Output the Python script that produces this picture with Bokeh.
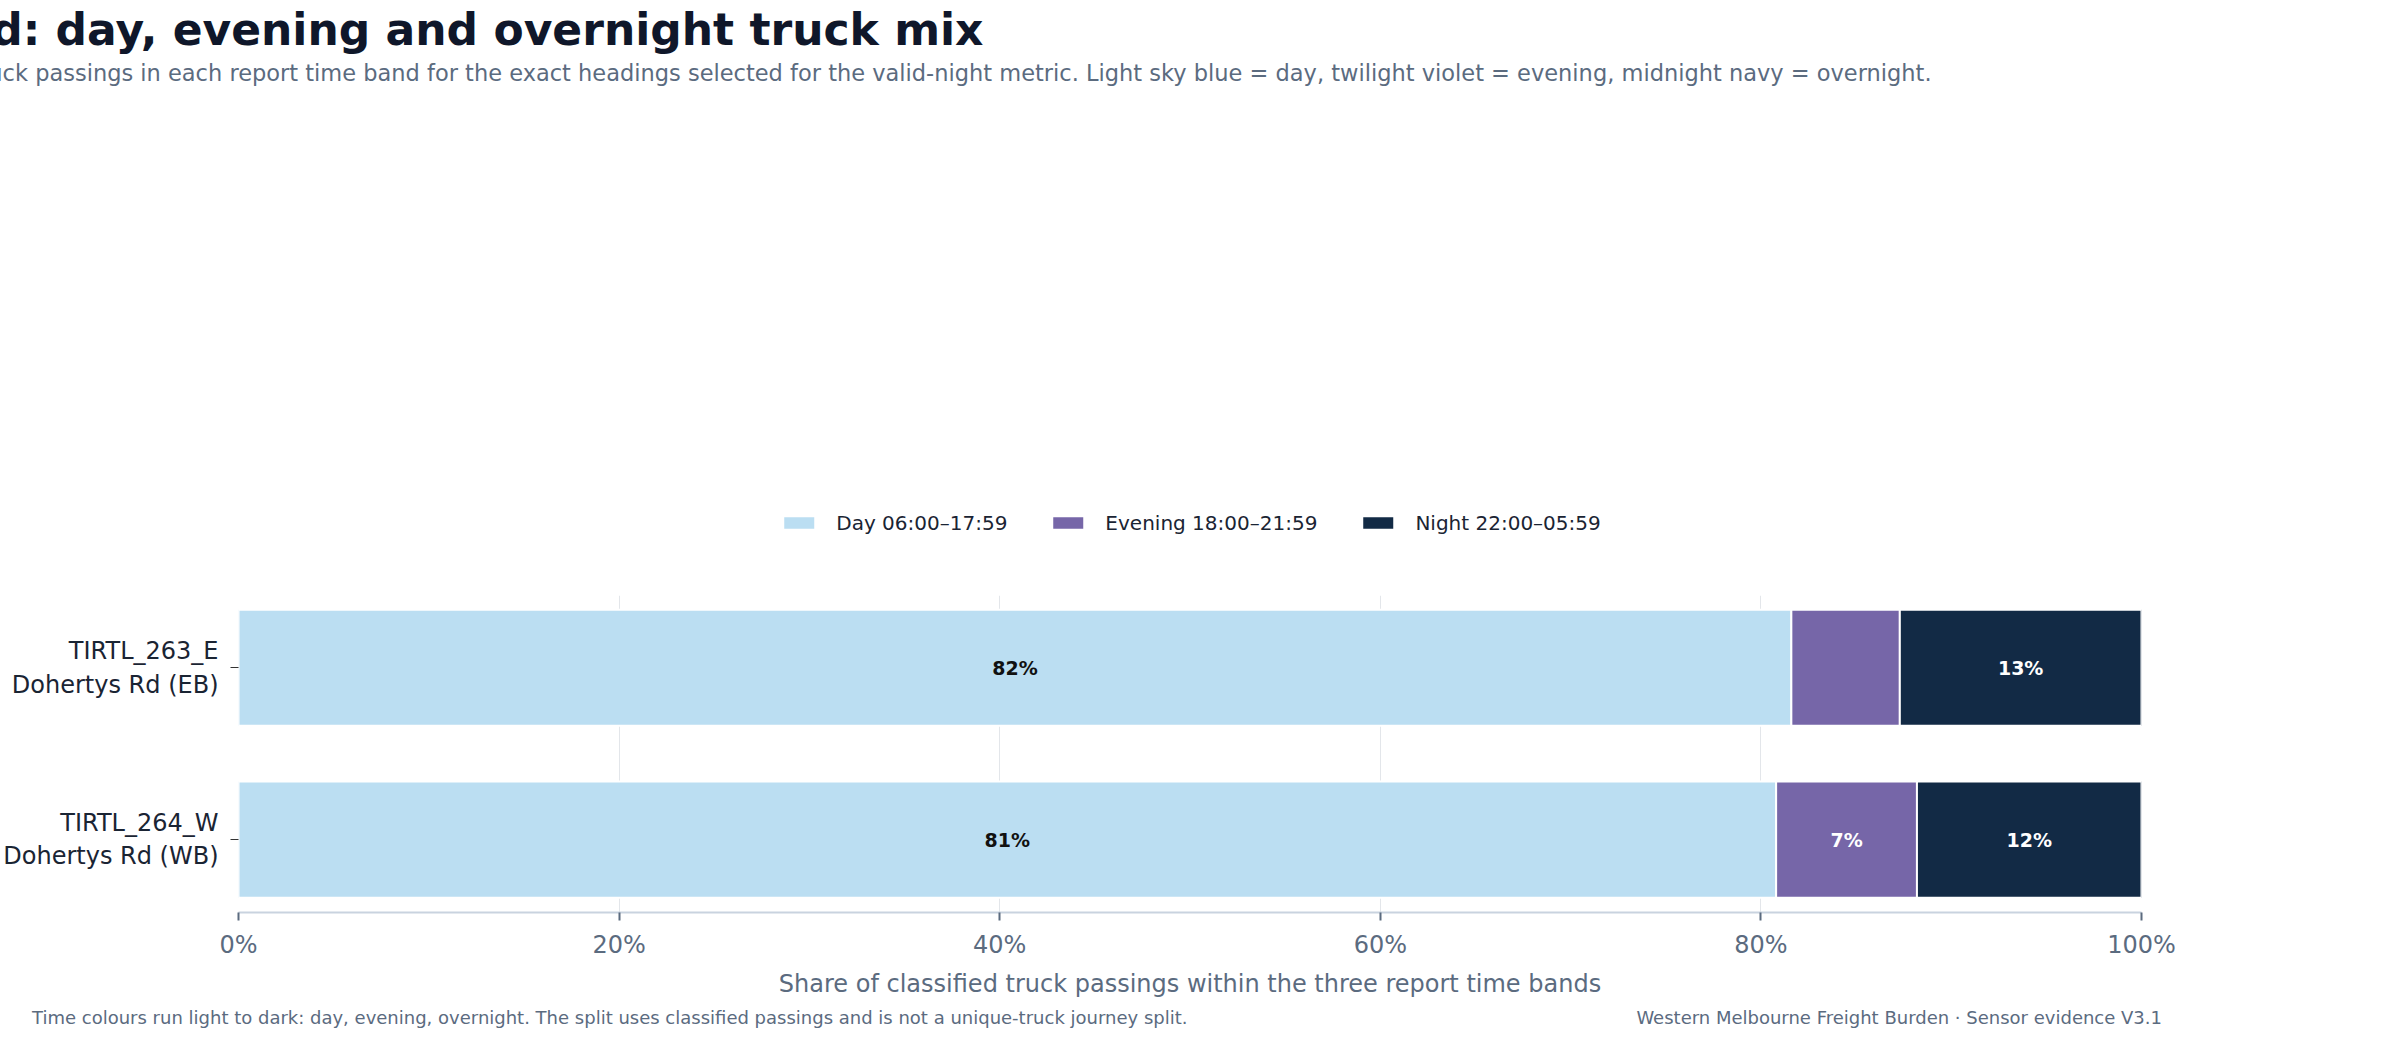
from bokeh.plotting import figure
from bokeh.models import Legend, LegendItem, FixedTicker, ColumnDataSource, Title, Div
from bokeh.layouts import column, row
from bokeh.core.properties import value
from bokeh.embed import file_html
from bokeh.resources import INLINE

sites = ["TIRTL_263_E\nDohertys Rd (EB)", "TIRTL_264_W\nDohertys Rd (WB)"]
site_y = [1, 0]
day = [81.6, 80.8]
evening = [5.7, 7.4]
night = [12.7, 11.8]
bands = ["Day 06:00\u201317:59", "Evening 18:00\u201321:59", "Night 22:00\u201305:59"]
colors = ["#bbdef2", "#7666a8", "#122a45"]
label_colors = ["#111111", "#ffffff", "#ffffff"]
x_ticks = [0, 20, 40, 60, 80, 100]

FONT = "DejaVu Sans"
p = figure(width=2380, height=1000, output_backend="svg", toolbar_location=None,
           x_range=(0, 100), y_range=(-0.424, 1.42),
           min_border_left=40, min_border_right=239, min_border_top=10, min_border_bottom=10)
p.outline_line_color = None

series = [day, evening, night]
renderers = []
lefts = [0.0, 0.0]
for i, vals in enumerate(series):
    rights = [l + v for l, v in zip(lefts, vals)]
    src = ColumnDataSource(dict(y=site_y, left=lefts, right=rights))
    r = p.hbar(y="y", left="left", right="right", height=0.675, source=src,
               fill_color=colors[i], line_color="white", line_width=2)
    renderers.append(r)
    tx, ty, tt = [], [], []
    for l, rr, yy, v in zip(lefts, rights, site_y, vals):
        if v >= 6:
            tx.append((l + rr) / 2); ty.append(yy); tt.append(f"{round(v):.0f}%")
    p.text(x=tx, y=ty, text=tt, text_align="center", text_baseline="middle",
           text_font=value(FONT), text_font_size="19px", text_font_style="bold",
           text_color=label_colors[i])
    lefts = rights

p.xgrid.grid_line_color = "#e3e6ea"
p.xgrid.ticker = FixedTicker(ticks=x_ticks)
p.ygrid.grid_line_color = None
p.xaxis.ticker = FixedTicker(ticks=x_ticks)
p.xaxis.major_label_overrides = {t: f"{t}%" for t in x_ticks}
p.xaxis.axis_line_color = "#c9d3df"
p.xaxis.axis_line_width = 2
p.xaxis.major_tick_line_color = "#5b6b7f"
p.xaxis.major_tick_line_width = 2
p.xaxis.major_tick_out = 8
p.xaxis.major_tick_in = 0
p.xaxis.minor_tick_line_color = None
p.xaxis.major_label_text_font = FONT
p.xaxis.major_label_text_font_size = "24px"
p.xaxis.major_label_text_color = "#5b6b7f"
p.xaxis.major_label_standoff = 10
p.xaxis.axis_label = "Share of classified truck passings within the three report time bands"
p.xaxis.axis_label_text_font = FONT
p.xaxis.axis_label_text_font_size = "24px"
p.xaxis.axis_label_text_font_style = "normal"
p.xaxis.axis_label_text_color = "#5b6b7f"
p.xaxis.axis_label_standoff = 8

p.yaxis.ticker = FixedTicker(ticks=site_y)
p.yaxis.major_label_overrides = {yy: s for yy, s in zip(site_y, sites)}
p.yaxis.major_label_text_font = FONT
p.yaxis.major_label_text_font_size = "24px"
p.yaxis.major_label_text_color = "#1a2433"
p.yaxis.major_label_text_align = "right"
p.yaxis.major_label_standoff = 12
p.yaxis.axis_line_color = None
p.yaxis.major_tick_line_color = "#333333"
p.yaxis.major_tick_out = 8
p.yaxis.major_tick_in = 0
p.yaxis.minor_tick_line_color = None

legend = Legend(items=[LegendItem(label=b, renderers=[r]) for b, r in zip(bands, renderers)],
                orientation="horizontal", location="center", padding=4, margin=4,
                spacing=40, glyph_width=40, glyph_height=17, label_standoff=18,
                label_text_font=FONT, label_text_font_size="20px", label_text_color="#1a2433",
                border_line_color=None, background_fill_alpha=0)
p.add_layout(legend, "above")

p.add_layout(Title(text="The proportion of classified truck passings in each report time band for the exact headings selected for the valid-night metric. Light sky blue = day, twilight violet = evening, midnight navy = overnight.",
                   text_font=FONT, text_font_size="22.5px", text_font_style="normal",
                   text_color="#5b6b7f", offset=-582, standoff=4), "above")
p.add_layout(Title(text="Dohertys Road: day, evening and overnight truck mix",
                   text_font=FONT, text_font_size="44px", text_font_style="bold",
                   text_color="#0f172a", offset=-582, standoff=2), "above")

foot_style = {"font-family": FONT, "font-size": "18px", "color": "#5b6b7f"}
left_div = Div(text="Time colours run light to dark: day, evening, overnight. The split uses classified passings and is not a unique-truck journey split.",
               width=1500, height=30, styles=dict(foot_style, **{"margin-left": "32px"}))
right_div = Div(text="Western Melbourne Freight Burden \u00b7 Sensor evidence V3.1",
                width=620, height=30, styles=dict(foot_style, **{"text-align": "right"}))
layout = column(p, row(left_div, right_div))

open("out.html", "w").write(file_html(layout, INLINE))
